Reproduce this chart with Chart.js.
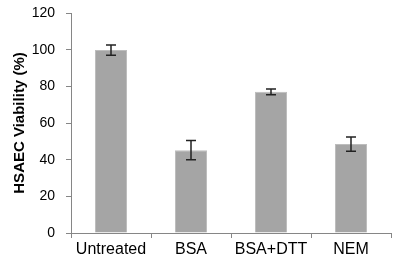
<!DOCTYPE html>
<html>
<head>
<meta charset="utf-8">
<script src="https://cdn.jsdelivr.net/npm/chart.js@4"></script>
<style>
  html, body { margin: 0; padding: 0; background: #fff; }
  #wrap { width: 397px; height: 266px; }
</style>
</head>
<body>
<div id="wrap"><canvas id="viab"></canvas></div>
<script>
const groups = ['Untreated', 'BSA', 'BSA+DTT', 'NEM'];
const viability = [99.8, 45.2, 77.0, 48.5];
const viabErr = [2.8, 5.2, 1.6, 3.9];
const yTicks = [0, 20, 40, 60, 80, 100, 120];

// error bars drawn from the data through the y scale
const errorBars = {
  id: 'errorBars',
  afterDatasetsDraw(chart) {
    const ctx = chart.ctx;
    const y = chart.scales.y;
    const meta = chart.getDatasetMeta(0);
    ctx.save();
    ctx.strokeStyle = '#222';
    ctx.lineWidth = 1.5;
    meta.data.forEach((bar, i) => {
      const top = y.getPixelForValue(viability[i] + viabErr[i]);
      const bot = y.getPixelForValue(viability[i] - viabErr[i]);
      const x = bar.x;
      ctx.beginPath();
      ctx.moveTo(x, top); ctx.lineTo(x, bot);
      ctx.moveTo(x - 5, top); ctx.lineTo(x + 5, top);
      ctx.moveTo(x - 5, bot); ctx.lineTo(x + 5, bot);
      ctx.stroke();
    });
    ctx.restore();
  }
};

new Chart(document.getElementById('viab'), {
  type: 'bar',
  data: {
    labels: groups,
    datasets: [{
      data: viability,
      backgroundColor: '#a5a5a5',
      borderColor: '#bdbdbd',
      borderWidth: 1,
      barPercentage: 0.4,
      categoryPercentage: 1.0
    }]
  },
  options: {
    responsive: true,
    maintainAspectRatio: false,
    animation: false,
    layout: { padding: { top: 13, right: 6, left: 11, bottom: 0 } },
    plugins: { legend: { display: false }, tooltip: { enabled: false } },
    scales: {
      x: {
        offset: true,
        grid: { offset: true, drawOnChartArea: false, drawTicks: true, tickLength: 5, color: '#868686' },
        border: { color: '#868686', width: 1 },
        ticks: { color: '#000', font: { family: 'Liberation Sans, Arial', size: 16 }, padding: 2 },
        afterFit(s) { s.height = 33; }
      },
      y: {
        min: 0,
        max: 120,
        afterBuildTicks(s) { s.ticks = yTicks.map(v => ({ value: v })); },
        grid: { drawOnChartArea: false, drawTicks: true, tickLength: 5, color: '#868686' },
        border: { color: '#868686', width: 1 },
        ticks: { color: '#000', font: { family: 'Liberation Sans, Arial', size: 14 }, padding: 11 },
        title: {
          display: true,
          text: 'HSAEC Viability (%)',
          color: '#000',
          font: { family: 'Liberation Sans, Arial', size: 15, weight: 'bold' },
          padding: { top: 0, bottom: 0 }
        },
        afterFit(s) { s.width = 60; s.paddingTop = 0; s.paddingBottom = 0; }
      }
    }
  },
  plugins: [errorBars]
});
</script>
</body>
</html>
